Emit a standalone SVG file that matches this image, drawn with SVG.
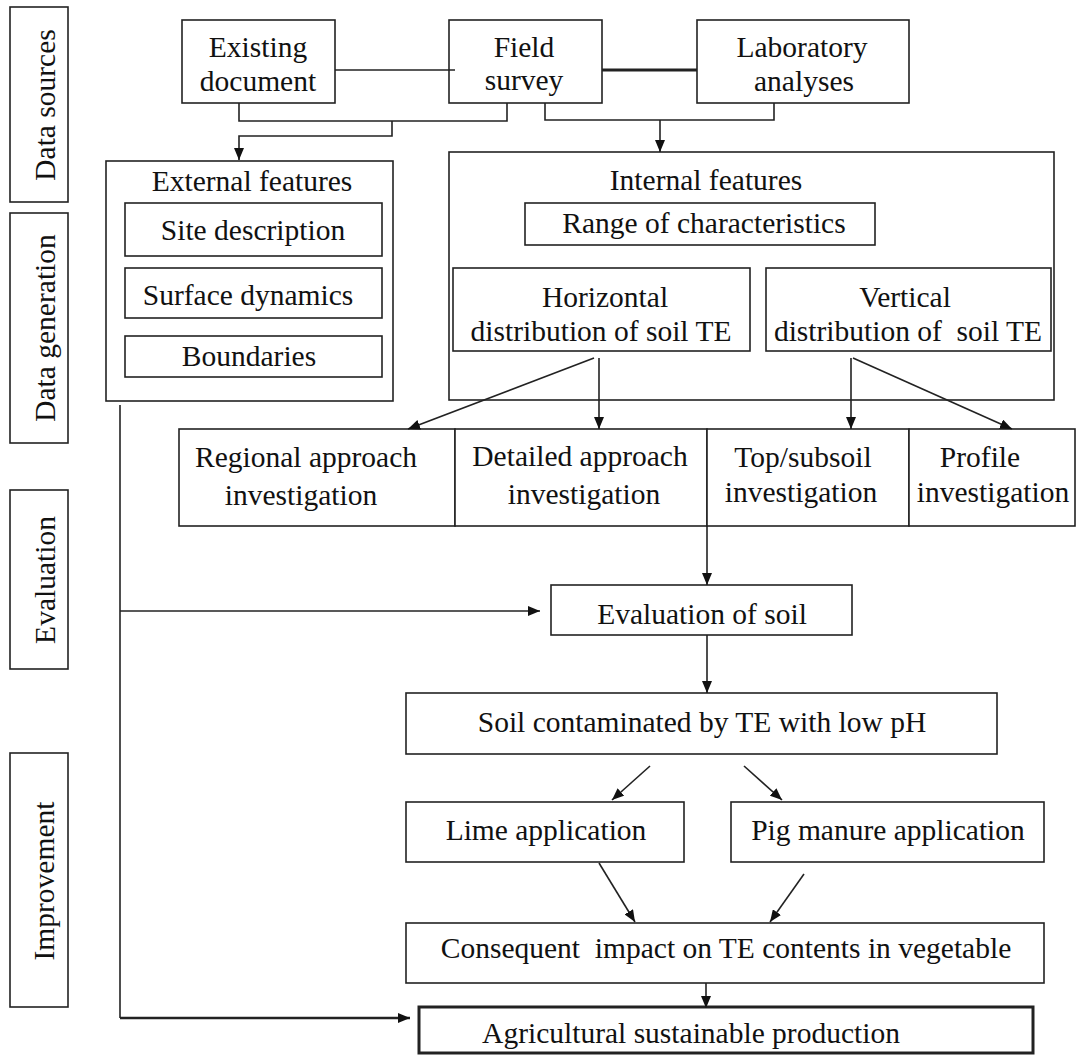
<svg xmlns="http://www.w3.org/2000/svg" width="1082" height="1056" viewBox="0 0 1082 1056">
<style>
.b{fill:#fff;stroke:#222;stroke-width:1.6}
.t{font-family:"Liberation Serif","Times New Roman",serif;font-size:29.5px;fill:#111;text-anchor:middle;white-space:pre}
.c{fill:none;stroke:#222;stroke-width:1.6}
.a{marker-end:url(#ah)}
</style>
<defs>
<marker id="ah" markerUnits="userSpaceOnUse" markerWidth="12" markerHeight="10" refX="12" refY="5" orient="auto">
<path d="M0,0 L12,5 L0,10 z" fill="#111"/>
</marker>
</defs>
<rect width="1082" height="1056" fill="#fff"/>

<g id="lbl-sources"><rect class="b" x="10" y="7" width="58" height="195"/><text class="t" transform="translate(55,105) rotate(-90)">Data sources</text></g>
<g id="lbl-generation"><rect class="b" x="10" y="213" width="58" height="230"/><text class="t" transform="translate(55,328) rotate(-90)">Data generation</text></g>
<g id="lbl-evaluation"><rect class="b" x="10" y="490" width="58" height="179"/><text class="t" transform="translate(55,580) rotate(-90)">Evaluation</text></g>
<g id="lbl-improvement"><rect class="b" x="10" y="753" width="58" height="254"/><text class="t" transform="translate(54,881) rotate(-90)">Improvement</text></g>

<g id="existing"><rect class="b" x="182" y="20" width="153" height="83"/><text class="t" x="258" y="57">Existing</text><text class="t" x="258" y="91">document</text></g>
<g id="field"><rect class="b" x="449" y="20" width="153" height="83"/><text class="t" x="524" y="57">Field</text><text class="t" x="524" y="90">survey</text></g>
<g id="lab"><rect class="b" x="697" y="20" width="212" height="83"/><text class="t" x="802" y="57">Laboratory</text><text class="t" x="804" y="91">analyses</text></g>

<g id="external"><rect class="b" x="106" y="161" width="287" height="240"/><text class="t" x="252" y="191">External features</text></g>
<g id="site"><rect class="b" x="125" y="203" width="257" height="53"/><text class="t" x="253" y="240">Site description</text></g>
<g id="surface"><rect class="b" x="125" y="268" width="257" height="50"/><text class="t" x="248" y="305">Surface dynamics</text></g>
<g id="boundaries"><rect class="b" x="125" y="336" width="257" height="41"/><text class="t" x="249" y="366">Boundaries</text></g>

<g id="internal"><rect class="b" x="449" y="152" width="605" height="248"/><text class="t" x="706" y="190">Internal features</text></g>
<g id="range"><rect class="b" x="525" y="203" width="350" height="42"/><text class="t" x="704" y="233">Range of characteristics</text></g>
<g id="horizontal"><rect class="b" x="453" y="268" width="297" height="83"/><text class="t" x="605" y="307">Horizontal</text><text class="t" x="601" y="341">distribution of soil TE</text></g>
<g id="vertical"><rect class="b" x="766" y="268" width="285" height="83"/><text class="t" x="905" y="307">Vertical</text><text class="t" x="908" y="341">distribution of  soil TE</text></g>

<g id="regional"><rect class="b" x="179" y="429" width="276" height="97"/><text class="t" x="306" y="467">Regional approach</text><text class="t" x="301" y="505">investigation</text></g>
<g id="detailed"><rect class="b" x="455" y="429" width="252" height="97"/><text class="t" x="580" y="466">Detailed approach</text><text class="t" x="584" y="504">investigation</text></g>
<g id="topsub"><rect class="b" x="707" y="429" width="202" height="97"/><text class="t" x="803" y="467">Top/subsoil</text><text class="t" x="801" y="502">investigation</text></g>
<g id="profile"><rect class="b" x="909" y="429" width="166" height="97"/><text class="t" x="980" y="467">Profile</text><text class="t" x="993" y="502">investigation</text></g>

<g id="evaluation"><rect class="b" x="551" y="585" width="301" height="50"/><text class="t" x="702" y="624">Evaluation of soil</text></g>
<g id="contaminated"><rect class="b" x="406" y="693" width="591" height="61"/><text class="t" x="702" y="732">Soil contaminated by TE with low pH</text></g>
<g id="lime"><rect class="b" x="406" y="802" width="278" height="60"/><text class="t" x="546" y="840">Lime application</text></g>
<g id="pig"><rect class="b" x="731" y="802" width="313" height="60"/><text class="t" x="888" y="840">Pig manure application</text></g>
<g id="consequent"><rect class="b" x="406" y="923" width="638" height="60"/><text class="t" x="726" y="958">Consequent  impact on TE contents in vegetable</text></g>
<g id="agricultural"><rect class="b" x="419" y="1007" width="614" height="46" style="stroke-width:3"/><text class="t" x="691" y="1043">Agricultural sustainable production</text></g>

<g id="connectors">
<path class="c" d="M335,70 H455"/>
<path class="c" d="M602,70 H697" style="stroke-width:3"/>
<path class="c" d="M239,103 V121 H507 V103"/>
<path class="c a" d="M392,121 V136 H239 V160"/>
<path class="c" d="M545,103 V120 H774 V103"/>
<path class="c a" d="M660,120 V152"/>
<path class="c a" d="M594,358 L408,429"/>
<path class="c a" d="M599,358 V429"/>
<path class="c a" d="M851,358 V429"/>
<path class="c a" d="M853,358 L1012,429"/>
<path class="c" d="M120,405 V1018"/>
<path class="c a" d="M120,611 H540"/>
<path class="c a" d="M120,1018 H410" style="stroke-width:2.6"/>
<path class="c a" d="M707,526 V585"/>
<path class="c a" d="M707,635 V693"/>
<path class="c a" d="M650,766 L612,800"/>
<path class="c a" d="M744,766 L782,800"/>
<path class="c a" d="M599,863 L635,922"/>
<path class="c a" d="M804,874 L770,922"/>
<path class="c a" d="M706,983 V1008"/>
</g>
</svg>
